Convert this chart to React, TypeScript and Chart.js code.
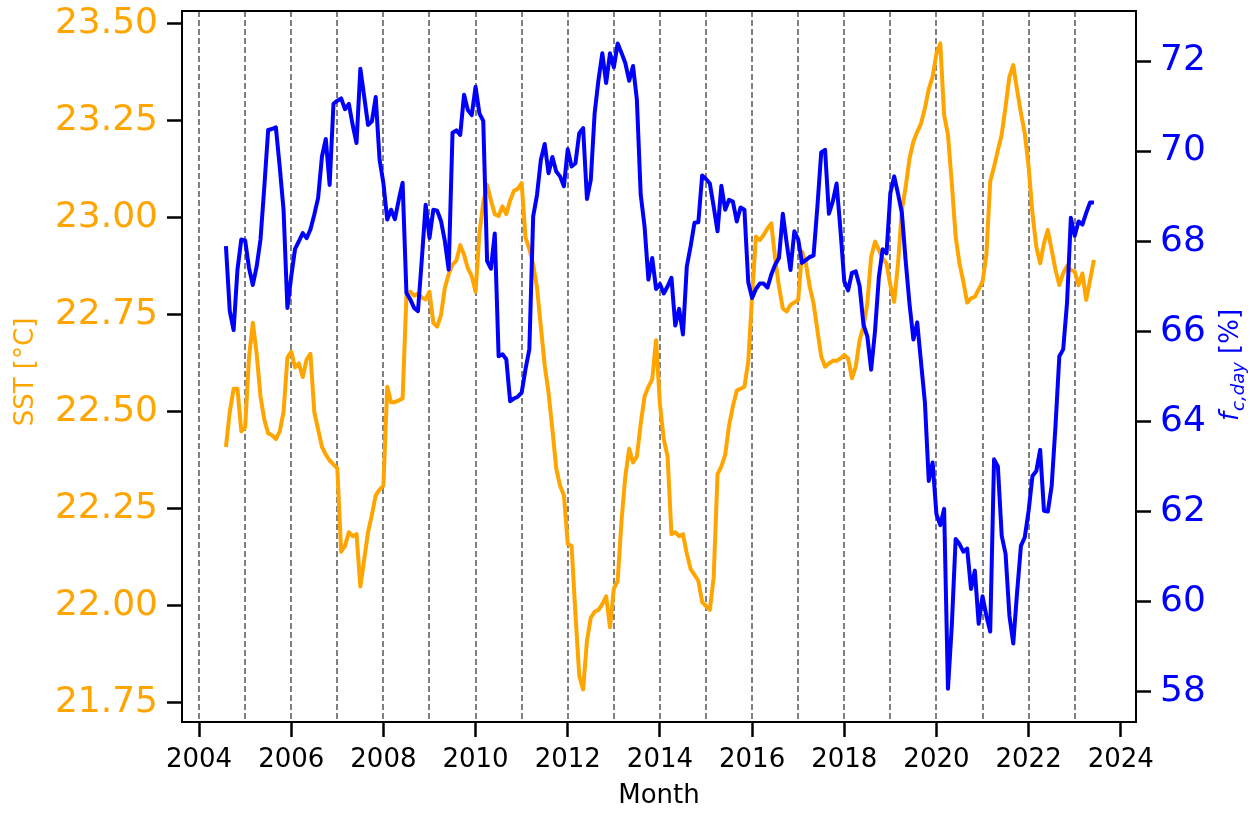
import React, { useEffect, useRef } from "react";
import { Chart, registerables } from "chart.js";

Chart.register(...registerables);

// Monthly series start: August 2004
const START_YEAR = 2004;
const START_MONTH = 8;

// Sea surface temperature [°C], monthly, Aug 2004 – Jun 2023
const sst: number[] = [
  // 2004 Aug-Dec
  22.41, 22.5, 22.56, 22.56, 22.45,
  // 2005
  22.46, 22.64, 22.73, 22.65, 22.54, 22.48, 22.445, 22.44, 22.43, 22.45, 22.5, 22.64,
  // 2006
  22.655, 22.615, 22.625, 22.59, 22.635, 22.65, 22.5, 22.455, 22.41, 22.39, 22.375, 22.365,
  // 2007
  22.355, 22.14, 22.155, 22.19, 22.18, 22.185, 22.05, 22.12, 22.19, 22.235, 22.285, 22.3,
  // 2008
  22.31, 22.565, 22.525, 22.525, 22.53, 22.535, 22.8, 22.81, 22.8, 22.805, 22.795, 22.79,
  // 2009
  22.81, 22.73, 22.72, 22.75, 22.82, 22.855, 22.88, 22.89, 22.93, 22.905, 22.87, 22.85,
  // 2010
  22.81, 22.96, 23.04, 23.085, 23.045, 23.01, 23.005, 23.03, 23.01, 23.045, 23.07, 23.075,
  // 2011
  23.09, 22.95, 22.92, 22.88, 22.82, 22.72, 22.62, 22.55, 22.455, 22.355, 22.31, 22.285,
  // 2012
  22.16, 22.155, 21.98, 21.82, 21.785, 21.91, 21.97, 21.985, 21.99, 22.005, 22.025, 21.945,
  // 2013
  22.045, 22.065, 22.22, 22.335, 22.405, 22.37, 22.385, 22.47, 22.54, 22.565, 22.585, 22.685,
  // 2014
  22.52, 22.43, 22.385, 22.185, 22.19, 22.18, 22.185, 22.135, 22.095, 22.08, 22.065, 22.01,
  // 2015
  22.0, 21.99, 22.075, 22.34, 22.36, 22.39, 22.465, 22.515, 22.555, 22.56, 22.565, 22.63,
  // 2016
  22.8, 22.952, 22.943, 22.956, 22.973, 22.986, 22.896, 22.823, 22.767, 22.759, 22.776, 22.782,
  // 2017
  22.789, 22.913, 22.883, 22.823, 22.78, 22.711, 22.643, 22.617, 22.625, 22.632, 22.632, 22.638,
  // 2018
  22.647, 22.638, 22.587, 22.617, 22.686, 22.72, 22.78, 22.9, 22.939, 22.918, 22.896, 22.883,
  // 2019
  22.827, 22.784, 22.883, 23.021, 23.081, 23.154, 23.197, 23.222, 23.244, 23.283, 23.332, 23.364,
  // 2020
  23.424, 23.45, 23.265, 23.214, 23.089, 22.952, 22.883, 22.836, 22.782, 22.793, 22.797, 22.816,
  // 2021
  22.836, 22.905, 23.094, 23.132, 23.175, 23.216, 23.287, 23.364, 23.394, 23.33, 23.27, 23.218,
  // 2022
  23.132, 23.012, 22.926, 22.883, 22.935, 22.969, 22.918, 22.866, 22.827, 22.857, 22.876, 22.866,
  // 2023 Jan-Jun
  22.862, 22.827, 22.857, 22.789, 22.84, 22.892,
];

// Daytime cloud fraction f_c,day [%], monthly, Aug 2004 – Jun 2023
const fcDay: number[] = [
  // 2004 Aug-Dec
  67.89, 66.45, 66.03, 67.37, 68.04,
  // 2005
  68.02, 67.41, 67.03, 67.44, 68.04, 69.22, 70.47, 70.49, 70.53, 69.66, 68.7, 66.52,
  // 2006
  67.22, 67.83, 68.0, 68.18, 68.07, 68.26, 68.59, 68.96, 69.88, 70.27, 69.25, 71.05,
  // 2007
  71.12, 71.17, 70.93, 71.05, 70.58, 70.18, 71.83, 71.21, 70.58, 70.66, 71.2, 69.81,
  // 2008
  69.29, 68.48, 68.7, 68.49, 68.92, 69.3, 66.85, 66.71, 66.52, 66.45, 67.59, 68.81,
  // 2009
  68.07, 68.7, 68.68, 68.45, 68.0, 67.37, 70.41, 70.46, 70.36, 71.25, 70.91, 70.8,
  // 2010
  71.43, 70.84, 70.67, 67.56, 67.39, 68.17, 65.45, 65.49, 65.38, 64.45, 64.51, 64.55,
  // 2011
  64.64, 65.16, 65.6, 68.55, 69.03, 69.81, 70.16, 69.51, 69.87, 69.55, 69.44, 69.22,
  // 2012
  70.04, 69.66, 69.73, 70.4, 70.51, 68.94, 69.36, 70.84, 71.58, 72.17, 71.51, 72.17,
  // 2013
  71.86, 72.39, 72.18, 71.95, 71.56, 71.89, 71.14, 69.03, 68.33, 67.15, 67.63, 66.94,
  // 2014
  67.05, 66.84, 67.0, 67.19, 66.13, 66.5, 65.93, 67.44, 67.89, 68.41, 68.42, 69.46,
  // 2015
  69.38, 69.28, 68.77, 68.22, 69.23, 68.7, 68.92, 68.88, 68.44, 68.75, 68.7, 67.09,
  // 2016
  66.74, 66.94, 67.06, 67.06, 66.97, 67.26, 67.48, 67.63, 68.61, 67.96, 67.36, 68.22,
  // 2017
  68.04, 67.52, 67.58, 67.65, 67.68, 68.77, 69.97, 70.03, 68.61, 68.88, 69.28, 68.26,
  // 2018
  67.11, 66.91, 67.3, 67.33, 67.0, 66.15, 65.89, 65.15, 66.0, 67.2, 67.82, 67.73,
  // 2019
  69.07, 69.44, 69.05, 68.63, 67.55, 66.6, 65.82, 66.2, 65.3, 64.42, 62.68, 63.09,
  // 2020
  61.94, 61.7, 62.06, 58.07, 59.47, 61.39, 61.28, 61.11, 61.18, 60.28, 60.69, 59.51,
  // 2021
  60.12, 59.69, 59.34, 63.16, 63.0, 61.46, 61.06, 59.69, 59.07, 60.21, 61.24, 61.43,
  // 2022
  62.02, 62.79, 62.9, 63.37, 62.02, 62.0, 62.57, 63.9, 65.45, 65.6, 66.63, 68.52,
  // 2023 Jan-Jun
  68.12, 68.44, 68.37, 68.63, 68.86, 68.86,
];

const xTicks: number[] = [2004, 2006, 2008, 2010, 2012, 2014, 2016, 2018, 2020, 2022, 2024];
const sstTicks: number[] = [21.75, 22.0, 22.25, 22.5, 22.75, 23.0, 23.25, 23.5];
const fcTicks: number[] = [58, 60, 62, 64, 66, 68, 70, 72];
const yearLines: number[] = [
  2004, 2005, 2006, 2007, 2008, 2009, 2010, 2011, 2012, 2013,
  2014, 2015, 2016, 2017, 2018, 2019, 2020, 2021, 2022, 2023,
];

const ORANGE = "#FFA500";
const BLUE = "#0000FF";
const FONT = "'DejaVu Sans', sans-serif";

const months: number[] = sst.map((_, i) => START_YEAR + (START_MONTH - 1 + i) / 12);

const W = 1253;
const H = 813;

const zeroPad = (s: any) => {
  s.paddingTop = 0;
  s.paddingBottom = 0;
  s.paddingLeft = 0;
  s.paddingRight = 0;
};

const decorPlugin = {
  id: "decor",
  beforeDatasetsDraw(chart: any) {
    const { ctx, chartArea, scales } = chart;
    ctx.save();
    ctx.strokeStyle = "#808080";
    ctx.lineWidth = 2;
    ctx.setLineDash([6, 3]);
    for (const yr of yearLines) {
      const x = Math.round(scales.x.getPixelForValue(yr));
      ctx.beginPath();
      ctx.moveTo(x, chartArea.top);
      ctx.lineTo(x, chartArea.bottom);
      ctx.stroke();
    }
    ctx.restore();
  },
  afterDraw(chart: any) {
    const { ctx, chartArea } = chart;
    ctx.save();
    // frame
    ctx.strokeStyle = "#000";
    ctx.lineWidth = 2;
    ctx.setLineDash([]);
    ctx.strokeRect(chartArea.left, chartArea.top, chartArea.right - chartArea.left, chartArea.bottom - chartArea.top);

    // x title
    ctx.fillStyle = "#000";
    ctx.font = `26px ${FONT}`;
    ctx.textAlign = "center";
    ctx.textBaseline = "middle";
    ctx.fillText("Month", (chartArea.left + chartArea.right) / 2, 796);

    // left title
    ctx.save();
    ctx.translate(26, 372);
    ctx.rotate(-Math.PI / 2);
    ctx.fillStyle = ORANGE;
    ctx.font = `26px ${FONT}`;
    ctx.textAlign = "center";
    ctx.textBaseline = "middle";
    ctx.fillText("SST [°C]", 0, 0);
    ctx.restore();

    // right title: f_{c,day} [%]
    ctx.save();
    ctx.translate(1238, 365);
    ctx.rotate(-Math.PI / 2);
    ctx.fillStyle = BLUE;
    ctx.textBaseline = "alphabetic";
    ctx.textAlign = "left";
    const mainFont = `italic 26px ${FONT}`;
    const subFont = `italic 18px ${FONT}`;
    const normFont = `26px ${FONT}`;
    ctx.font = mainFont;
    const wF = ctx.measureText("f").width;
    ctx.font = subFont;
    const wSub = ctx.measureText("c,day").width;
    ctx.font = normFont;
    const wRest = ctx.measureText(" [%]").width;
    const total = wF + 1 + wSub + wRest;
    let x0 = -total / 2;
    ctx.font = mainFont;
    ctx.fillText("f", x0, 0);
    x0 += wF + 1;
    ctx.font = subFont;
    ctx.fillText("c,day", x0, 6);
    x0 += wSub;
    ctx.font = normFont;
    ctx.fillText(" [%]", x0, 0);
    ctx.restore();

    ctx.restore();
  },
};

export default function App() {
  const canvasRef = useRef<HTMLCanvasElement | null>(null);

  useEffect(() => {
    document.body.style.margin = "0";
    const canvas = canvasRef.current;
    if (!canvas) return;
    const chart = new Chart(canvas, {
      type: "line",
      data: {
        datasets: [
          {
            label: "f_c,day",
            data: fcDay.map((v, i) => ({ x: months[i], y: v })),
            yAxisID: "y1",
            borderColor: BLUE,
            backgroundColor: BLUE,
            borderWidth: 4,
            pointRadius: 0,
            tension: 0,
            borderJoinStyle: "round",
            order: 0,
          },
          {
            label: "SST",
            data: sst.map((v, i) => ({ x: months[i], y: v })),
            yAxisID: "y",
            borderColor: ORANGE,
            backgroundColor: ORANGE,
            borderWidth: 4,
            pointRadius: 0,
            tension: 0,
            borderJoinStyle: "round",
            order: 1,
          },
        ],
      },
      options: {
        responsive: false,
        animation: false,
        devicePixelRatio: 1,
        layout: { padding: { top: 11, left: 0, right: 0, bottom: 0 } },
        plugins: { legend: { display: false }, tooltip: { enabled: false } },
        scales: {
          x: {
            type: "linear",
            position: "bottom",
            min: 2003.63,
            max: 2024.33,
            afterBuildTicks: (s: any) => {
              s.ticks = xTicks.map((v) => ({ value: v }));
            },
            afterFit: (s: any) => {
              s.height = 91;
              zeroPad(s);
            },
            border: { display: false },
            grid: {
              display: true,
              drawOnChartArea: false,
              drawTicks: true,
              tickLength: 15,
              tickWidth: 2.5,
              tickColor: "#000",
            },
            ticks: {
              color: "#000",
              font: { family: FONT, size: 26 },
              padding: 8,
              maxRotation: 0,
              autoSkip: false,
              callback: (v: any) => String(v),
            },
          },
          y: {
            type: "linear",
            position: "left",
            min: 21.701,
            max: 23.5335,
            afterBuildTicks: (s: any) => {
              s.ticks = sstTicks.map((v) => ({ value: v }));
            },
            afterFit: (s: any) => {
              s.width = 182;
              zeroPad(s);
            },
            border: { display: false },
            grid: {
              display: true,
              drawOnChartArea: false,
              drawTicks: true,
              tickLength: 15,
              tickWidth: 2.5,
              tickColor: "#000",
            },
            ticks: {
              color: ORANGE,
              font: { family: FONT, size: 36 },
              padding: 9,
              autoSkip: false,
              callback: (v: any) => Number(v).toFixed(2),
            },
          },
          y1: {
            type: "linear",
            position: "right",
            min: 57.33,
            max: 73.11,
            afterBuildTicks: (s: any) => {
              s.ticks = fcTicks.map((v) => ({ value: v }));
            },
            afterFit: (s: any) => {
              s.width = 117;
              zeroPad(s);
            },
            border: { display: false },
            grid: {
              display: true,
              drawOnChartArea: false,
              drawTicks: true,
              tickLength: 15,
              tickWidth: 2.5,
              tickColor: "#000",
            },
            ticks: {
              color: BLUE,
              font: { family: FONT, size: 36 },
              padding: 9,
              autoSkip: false,
              callback: (v: any) => String(v),
            },
          },
        },
      },
      plugins: [decorPlugin],
    } as any);
    return () => chart.destroy();
  }, []);

  return (
    <div style={{ position: "absolute", left: 0, top: 0, width: W, height: H }}>
      <canvas ref={canvasRef} width={W} height={H} style={{ width: W, height: H, display: "block" }} />
    </div>
  );
}
